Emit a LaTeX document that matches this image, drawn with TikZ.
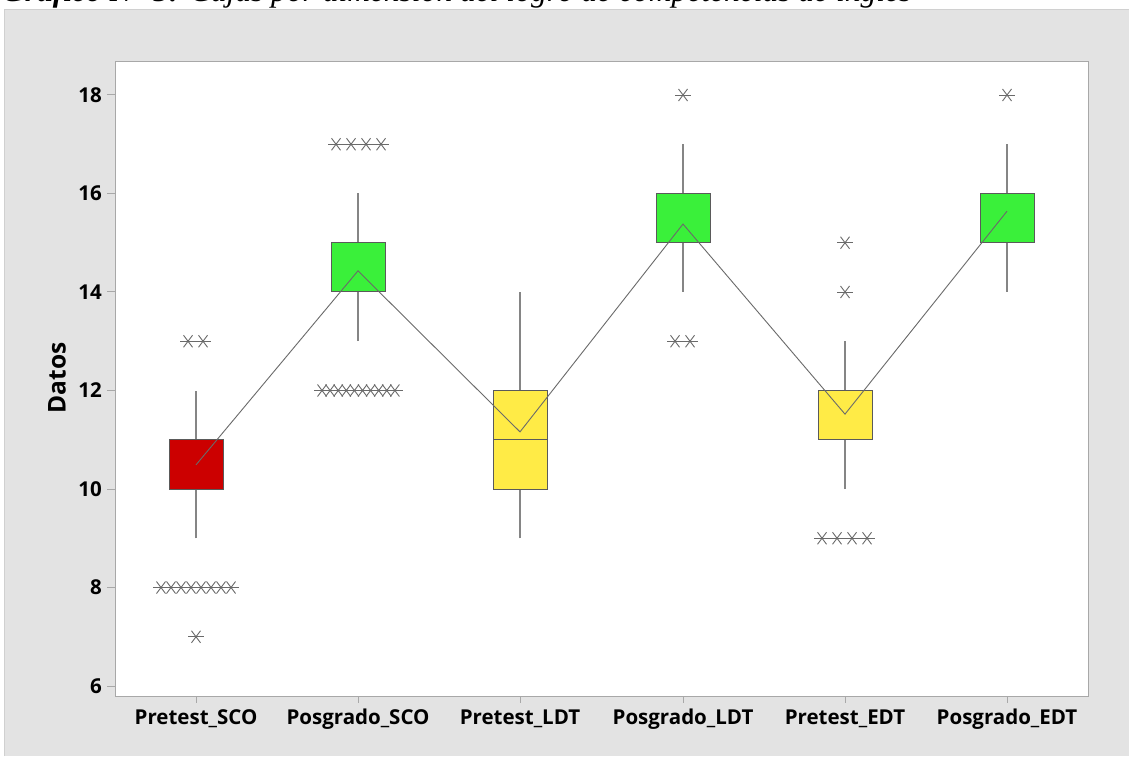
\documentclass[tikz,border=0pt]{standalone}
\usepackage{fontspec}
\setmainfont{Open Sans}
\newfontfamily\capfont{Liberation Serif}
\definecolor{bg}{HTML}{E3E3E3}
\definecolor{bgline}{HTML}{D0D0D0}
\definecolor{frame}{HTML}{A8A8A8}
\definecolor{cred}{HTML}{CC0000}
\definecolor{cgreen}{HTML}{3AF03A}
\definecolor{cyellow}{HTML}{FFEB46}
\definecolor{boxline}{HTML}{5A5A5A}
\definecolor{whiskc}{HTML}{858585}
\definecolor{outc}{HTML}{6A6A6A}
\definecolor{meanc}{HTML}{6A6A6A}
\tikzset{
  axtick/.style={draw=frame, line width=1pt},
  ticklab/.style={inner sep=0pt, font=\bfseries\fontsize{20.5}{20.5}\selectfont, text=black},
  boxst/.style={draw=boxline, line width=1pt},
  whisk/.style={draw=whiskc, line width=1.3pt},
  outl/.style={draw=outc, line width=0.9pt},
  meanl/.style={draw=meanc, line width=0.9pt},
  astk/.pic={\draw[outl] (-4.5pt,-6pt) -- (4.5pt,6pt) (-4.5pt,6pt) -- (4.5pt,-6pt);}
}
\begin{document}
\begin{tikzpicture}[x=1pt,y=1pt]
\useasboundingbox (0,0) rectangle (1129,756);
\fill[white] (0,0) rectangle (1129,756);
\fill[bg] (4,0) rectangle (1129,747);
\draw[bgline, line width=0.8pt] (4,0) -- (4,747) -- (1129,747);
\node[anchor=base west, inner sep=0pt, font=\capfont\itshape\fontsize{31.5}{31.5}\selectfont] (cap) at (2,754.5)
  {\textbf{Gráfico N° 5:} Cajas por dimensión del logro de competencias de inglés};
% plot frame
\filldraw[fill=white, draw=frame, line width=1pt] (115,60) rectangle (1088,694);
% y axis label
\node[rotate=90, inner sep=0pt, font=\bfseries\fontsize{24.5}{24.5}\selectfont] (ylab) at (57,378) {Datos};
% x ticks and labels
\foreach \x/\lab [count=\i] in {196/Pretest\_SCO,358/Posgrado\_SCO,520/Pretest\_LDT,683/Posgrado\_LDT,845/Pretest\_EDT,1007/Posgrado\_EDT}{
  \draw[axtick] (\x,60) -- (\x,53);
  \node[ticklab, anchor=base] (xl\i) at (\x,32) {\lab};
}
\begin{scope}[y=49.25pt, yshift=-225.5pt]
  \foreach \v in {6,8,...,18}{
    \draw[axtick] (107,\v) -- (115,\v);
    \node[ticklab, anchor=east] (yl\v) at (102,\v) {\v};
  }
  % whiskers
  \foreach \x/\lo/\hi in {196/9/12,358/13/16,520/9/14,683/14/17,845/10/13,1007/14/17}{
    \draw[whisk] (\x,\lo) -- (\x,\hi);
  }
  % boxes
  \foreach \x/\qa/\qb/\col in {196/10/11/cred,358/14/15/cgreen,520/10/12/cyellow,683/15/16/cgreen,845/11/12/cyellow,1007/15/16/cgreen}{
    \filldraw[boxst, fill=\col] (\x-27,\qa) rectangle (\x+27,\qb);
  }
  \draw[boxst] (493,11) -- (547,11);
  % outliers
  \foreach \v/\a/\b/\list in {13/188/203/{188,203}, 8/161/231/{161,171,181,191,201,211,221,231}, 7/196/196/{196},
      17/336/381/{336,351,366,381}, 12/322/395/{322,330.1,338.2,346.3,354.4,362.5,370.6,378.7,386.8,394.9},
      18/683/683/{683}, 13/675/690/{675,690},
      15/845/845/{845}, 14/845/845/{845}, 9/822/867/{822,837,852,867},
      18/1007/1007/{1007}}{
    \draw[outl] (\a-8,\v) -- (\b+8,\v);
    \foreach \p in \list { \pic at (\p,\v) {astk}; }
  }
  % means
  \coordinate (m1) at (196,10.49);
  \coordinate (m2) at (358,14.43);
  \coordinate (m3) at (520,11.16);
  \coordinate (m4) at (683,15.38);
  \coordinate (m5) at (845,11.52);
  \coordinate (m6) at (1007,15.64);
  \draw[meanl] (m1) -- (m2) -- (m3) -- (m4) -- (m5) -- (m6);
\end{scope}
\end{tikzpicture}
\end{document}
